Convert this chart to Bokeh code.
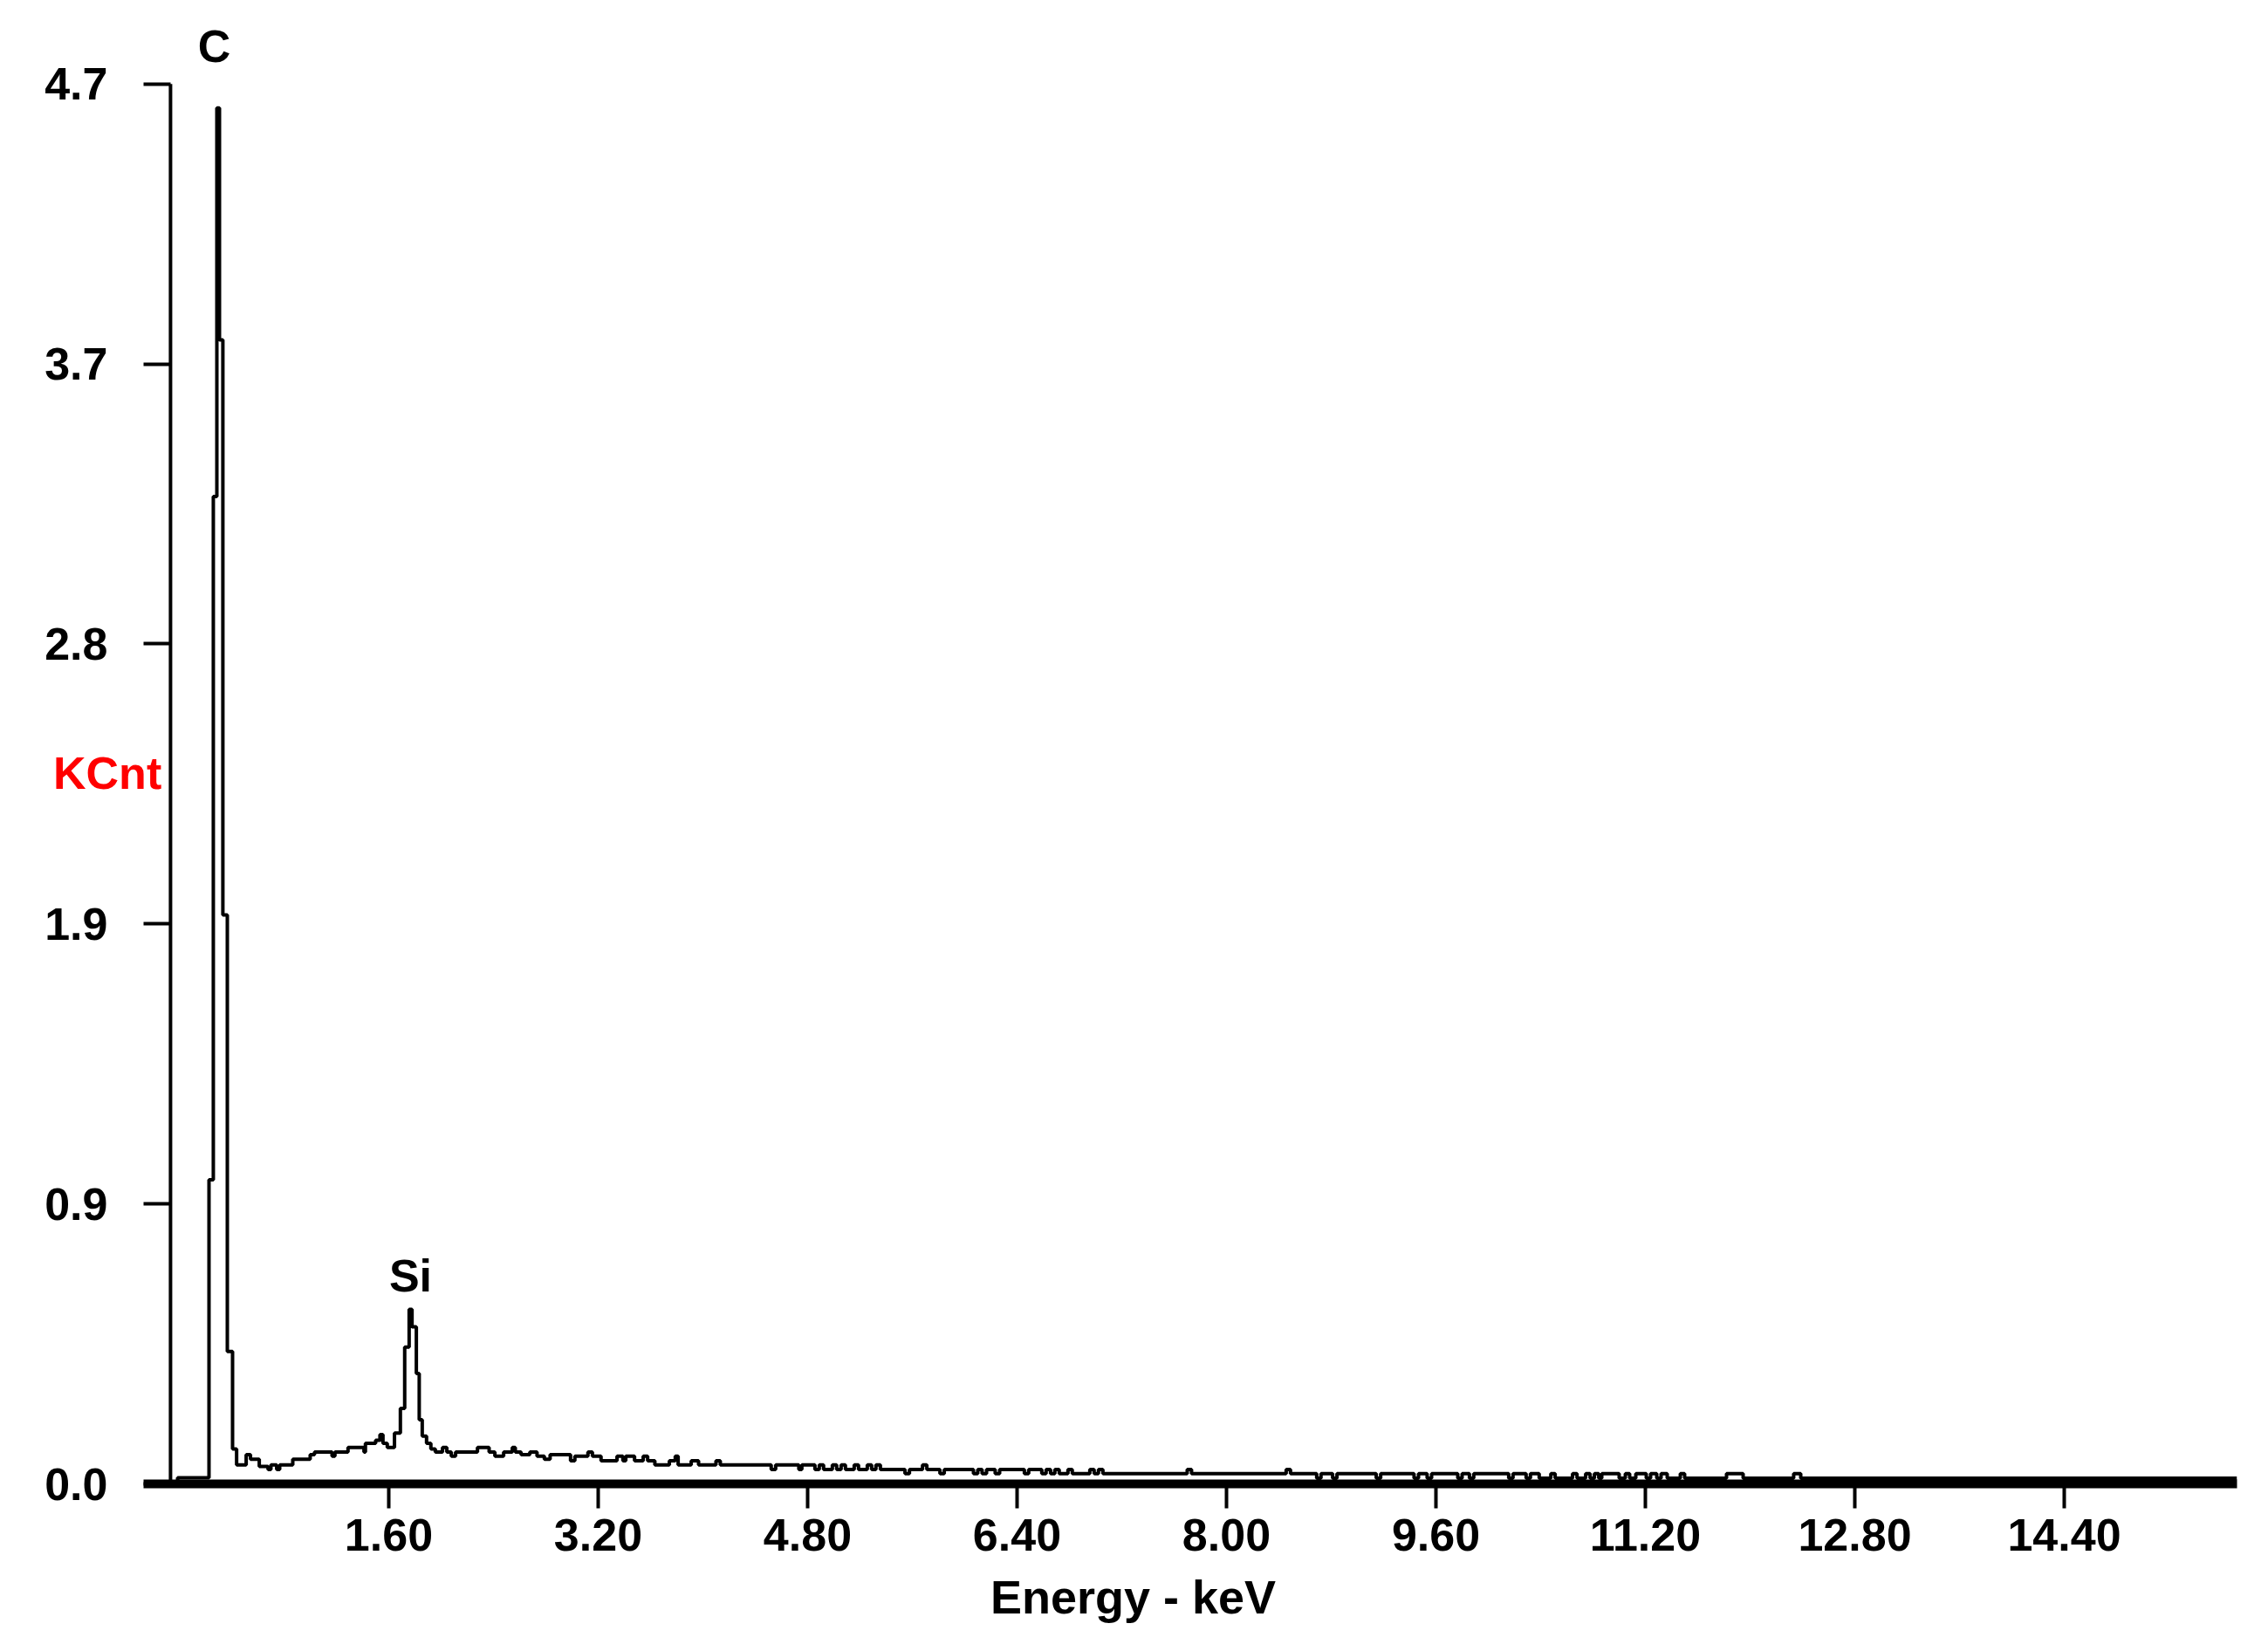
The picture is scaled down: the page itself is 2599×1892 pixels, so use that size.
from bokeh.plotting import figure
from bokeh.models import Range1d, FixedTicker, Label
from bokeh.embed import file_html
from bokeh.resources import INLINE
from bokeh.core.properties import value

# EDS spectrum (step transitions: energy where a level starts, level in KCnt)
energy_kev = [
    -0.067, -0.013, 0.227, 0.26, 0.287, 0.307, 0.333, 0.367, 0.407, 0.438,
    0.511, 0.544, 0.611, 0.678, 0.70, 0.744, 0.767, 0.867, 1.0, 1.033,
    1.167, 1.189, 1.289, 1.411, 1.422, 1.50, 1.533, 1.556, 1.589, 1.644,
    1.689, 1.722, 1.756, 1.778, 1.811, 1.833, 1.856, 1.889, 1.922, 1.956,
    2.011, 2.044, 2.078, 2.111, 2.278, 2.367, 2.411, 2.478, 2.544, 2.567,
    2.611, 2.678, 2.733, 2.789, 2.833, 2.989, 3.022, 3.122, 3.156, 3.222,
    3.344, 3.389, 3.411, 3.478, 3.544, 3.578, 3.633, 3.744, 3.789, 3.811,
    3.911, 3.967, 4.10, 4.133, 4.522, 4.556, 4.733, 4.756, 4.856, 4.889,
    4.922, 4.989, 5.022, 5.056, 5.089, 5.156, 5.189, 5.256, 5.289, 5.322,
    5.356, 5.544, 5.578, 5.678, 5.711, 5.811, 5.844, 6.067, 6.10, 6.133,
    6.167, 6.233, 6.267, 6.456, 6.489, 6.589, 6.622, 6.656, 6.689, 6.722,
    6.789, 6.822, 6.956, 6.989, 7.022, 7.056, 7.70, 7.733, 8.456, 8.489,
    8.689, 8.722, 8.811, 8.844, 9.144, 9.178, 9.433, 9.467, 9.533, 9.567,
    9.767, 9.80, 9.856, 9.889, 10.156, 10.189, 10.289, 10.322, 10.389, 10.478,
    10.511, 10.644, 10.678, 10.744, 10.778, 10.811, 10.844, 10.867, 11.0, 11.047,
    11.08, 11.127, 11.207, 11.24, 11.287, 11.32, 11.367, 11.467, 11.50, 11.82,
    11.947, 12.333, 12.387, 15.72,
]
kcnt = [
    0.0, 0.02, 1.01, 3.28, 4.57, 3.80, 1.89, 0.44, 0.116, 0.063,
    0.097, 0.082, 0.058, 0.048, 0.063, 0.048, 0.063, 0.082, 0.097, 0.106,
    0.092, 0.106, 0.121, 0.106, 0.135, 0.145, 0.164, 0.135, 0.121, 0.169,
    0.251, 0.454, 0.580, 0.522, 0.367, 0.213, 0.159, 0.135, 0.116, 0.106,
    0.121, 0.106, 0.092, 0.106, 0.121, 0.106, 0.092, 0.106, 0.121, 0.106,
    0.097, 0.106, 0.092, 0.082, 0.097, 0.077, 0.092, 0.106, 0.092, 0.077,
    0.092, 0.077, 0.092, 0.077, 0.092, 0.077, 0.063, 0.077, 0.092, 0.063,
    0.077, 0.063, 0.077, 0.063, 0.048, 0.063, 0.048, 0.063, 0.048, 0.063,
    0.048, 0.063, 0.048, 0.063, 0.048, 0.063, 0.048, 0.063, 0.048, 0.063,
    0.048, 0.034, 0.048, 0.063, 0.048, 0.034, 0.048, 0.034, 0.048, 0.034,
    0.048, 0.034, 0.048, 0.034, 0.048, 0.034, 0.048, 0.034, 0.048, 0.034,
    0.048, 0.034, 0.048, 0.034, 0.048, 0.034, 0.048, 0.034, 0.048, 0.034,
    0.019, 0.034, 0.019, 0.034, 0.019, 0.034, 0.019, 0.034, 0.019, 0.034,
    0.019, 0.034, 0.019, 0.034, 0.019, 0.034, 0.019, 0.034, 0.019, 0.034,
    0.019, 0.034, 0.019, 0.034, 0.019, 0.034, 0.019, 0.034, 0.019, 0.034,
    0.019, 0.034, 0.019, 0.034, 0.019, 0.034, 0.019, 0.034, 0.019, 0.034,
    0.019, 0.034, 0.019, 0.019,
]

x_ticks = [1.6, 3.2, 4.8, 6.4, 8.0, 9.6, 11.2, 12.8, 14.4]
x_tick_labels = ["1.60", "3.20", "4.80", "6.40", "8.00", "9.60", "11.20", "12.80", "14.40"]
y_ticks = [0.0, 0.93, 1.86, 2.79, 3.72, 4.65]
y_tick_labels = ["0.0", "0.9", "1.9", "2.8", "3.7", "4.7"]

# peak identification labels (energy, height of text baseline in KCnt)
c_label_x, c_label_y = 0.267, 4.774
si_label_x, si_label_y = 1.767, 0.690

X_MIN, X_MAX = -0.273, 15.72
Y_VIEW_MAX = 4.7246
Y_AXIS_TOP = 4.65
Y_AXIS_X = -0.067

FONT = "Liberation Sans"

p = figure(width=2590, height=1880,
           x_range=Range1d(X_MIN, X_MAX), y_range=Range1d(0, Y_VIEW_MAX),
           output_backend="svg", toolbar_location=None,
           min_border_left=164, min_border_right=27,
           min_border_top=70, min_border_bottom=180)
p.outline_line_color = None
p.background_fill_color = "white"
p.border_fill_color = "white"
p.xgrid.visible = False
p.ygrid.visible = False

# spectrum
p.step(energy_kev, kcnt, mode="after", line_color="black", line_width=4)

# vertical axis line (drawn where the original puts it, right of the tick marks)
p.segment(x0=[Y_AXIS_X], y0=[0], x1=[Y_AXIS_X], y1=[Y_AXIS_TOP],
          line_color="black", line_width=4)

# Si peak label (inside the frame)
p.text(x=[si_label_x], y=[si_label_y], text=["Si"],
       text_font=value(FONT), text_font_style="bold", text_font_size="52px",
       text_align="center", text_baseline="alphabetic", text_color="black")

# C peak label sits above the frame: place it in the top side panel
p.add_layout(Label(x=c_label_x, y=c_label_y, text="C", text_color="black",
                   text_font=FONT, text_font_style="bold", text_font_size="52px",
                   text_align="center", text_baseline="alphabetic"), "above")

# x axis
xa = p.xaxis[0]
xa.ticker = FixedTicker(ticks=x_ticks)
xa.major_label_overrides = {t: l for t, l in zip(x_ticks, x_tick_labels)}
xa.axis_line_width = 10
xa.axis_line_color = "black"
xa.major_tick_line_width = 4
xa.major_tick_line_color = "black"
xa.major_tick_out = 28
xa.major_tick_in = 0
xa.minor_tick_line_color = None
xa.major_label_standoff = 12
xa.major_label_text_font = FONT
xa.major_label_text_font_style = "bold"
xa.major_label_text_font_size = "52px"
xa.major_label_text_color = "black"

# y axis
ya = p.yaxis[0]
ya.ticker = FixedTicker(ticks=y_ticks)
ya.major_label_overrides = {t: l for t, l in zip(y_ticks, y_tick_labels)}
ya.axis_line_color = None
ya.major_tick_line_width = 4
ya.major_tick_line_color = "black"
ya.major_tick_in = 31
ya.major_tick_out = 0
ya.minor_tick_line_color = None
ya.major_label_standoff = 41
ya.major_label_text_font = FONT
ya.major_label_text_font_style = "bold"
ya.major_label_text_font_size = "52px"
ya.major_label_text_color = "black"
ya.axis_label = "KCnt"
ya.axis_label_orientation = "horizontal"
ya.axis_label_standoff = -137
ya.axis_label_text_color = "#ff0000"
ya.axis_label_text_font = FONT
ya.axis_label_text_font_style = "bold"
ya.axis_label_text_font_size = "52px"

# x axis title in the bottom side panel
p.add_layout(Label(x=7.287, y=-0.374, text="Energy - keV", text_color="black",
                   text_font=FONT, text_font_style="bold", text_font_size="54px",
                   text_align="center", text_baseline="alphabetic"), "below")

open("out.html", "w").write(file_html(p, INLINE))
